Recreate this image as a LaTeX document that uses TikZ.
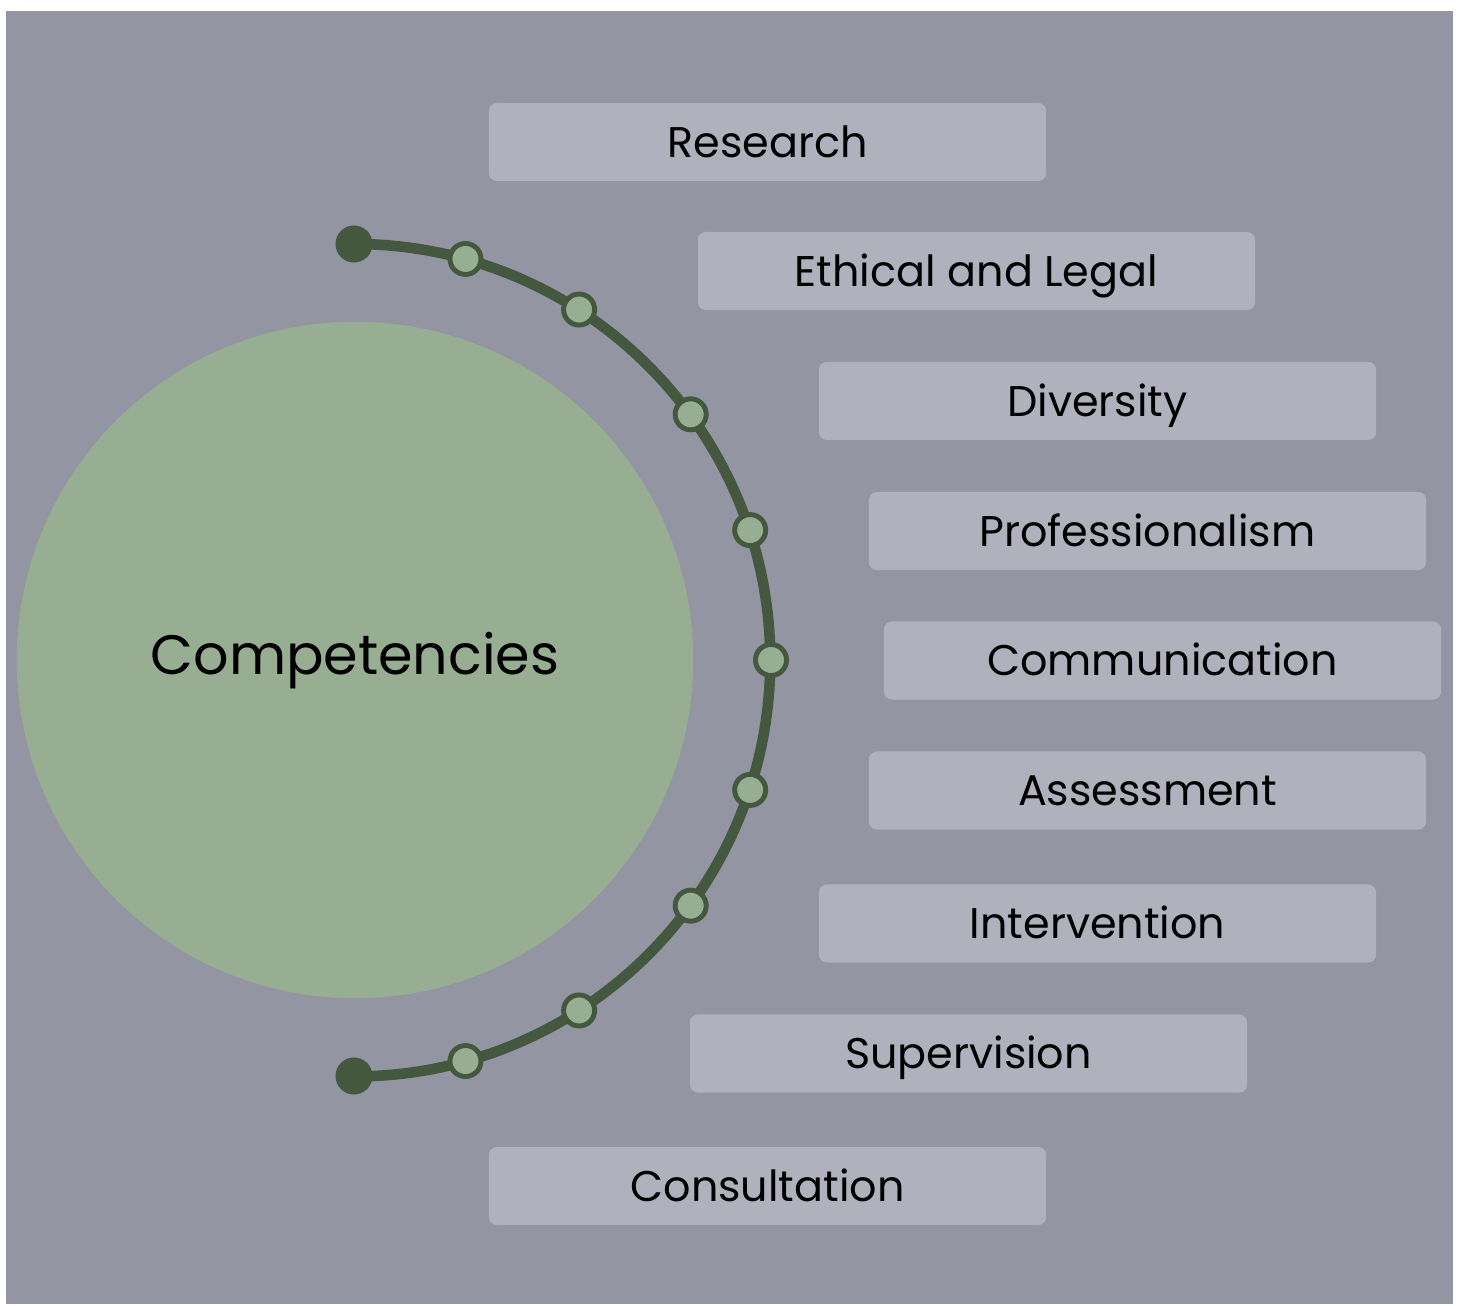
\documentclass[tikz,border=0pt]{standalone}
\usepackage{fontspec}
\setmainfont{Poppins}
\usetikzlibrary{positioning}
\definecolor{slate}{HTML}{9395A2}
\definecolor{boxgray}{HTML}{B1B1BD}
\definecolor{sage}{HTML}{97AE92}
\definecolor{forest}{HTML}{44573F}

\begin{document}
\begin{tikzpicture}[
  x=0.01cm,y=0.01cm,
  topic/.style={fill=boxgray,rounded corners=0.08cm,minimum width=5.57cm,minimum height=0.78cm,
    inner sep=0pt,text height=0.86em,text depth=0pt,font=\fontsize{12.2}{14}\selectfont},
  hub/.style={circle,fill=sage,minimum size=6.76cm,inner sep=0pt,text height=0.82em,text depth=0pt,
    font=\fontsize{15.8}{18}\selectfont},
  stud/.style={circle,draw=forest,line width=1.4pt,fill=sage,minimum size=0.31cm,inner sep=0pt},
  railend/.style={circle,fill=forest,minimum size=0.37cm,inner sep=0pt},
  rail/.style={draw=forest,line width=3pt}
]
\useasboundingbox (0,0) rectangle (1460,1305);
\fill[slate] (6,1) rectangle (1453,1294);

\node[hub] (comp) at (355,645) {Competencies};

% topic boxes
\node[topic] (research) at (767.5,1163)  {Research};
\node[topic] (ethics)   at (976.5,1034)  {Ethical and Legal};
\node[topic] (divers)   at (1097.5,904)  {Diversity};
\node[topic] (prof)     at (1147.5,774)  {Professionalism};
\node[topic] (comm)     at (1162.5,644.5){Communication};
\node[topic] (assess)   at (1147.5,514.5){Assessment};
\node[topic] (interv)   at (1097.5,381.5){Intervention};
\node[topic] (superv)   at (968.5,251.5) {Supervision};
\node[topic] (consult)  at (767.5,119)   {Consultation};

% the rail with its studs
\node[railend] (railtop) at (354,1061) {};
\node[railend] (railbot) at (354,229)  {};
\draw[rail] (railtop.center) arc[start angle=90,end angle=-90,radius=4.16cm];
\foreach \a [count=\i] in {74.6,57.4,36.2,18.2,0,-18.2,-36.2,-57.4,-74.6}
  \node[stud] (stud\i) at ([shift={(\a:416)}]comp.center) {};
\end{tikzpicture}
\end{document}
